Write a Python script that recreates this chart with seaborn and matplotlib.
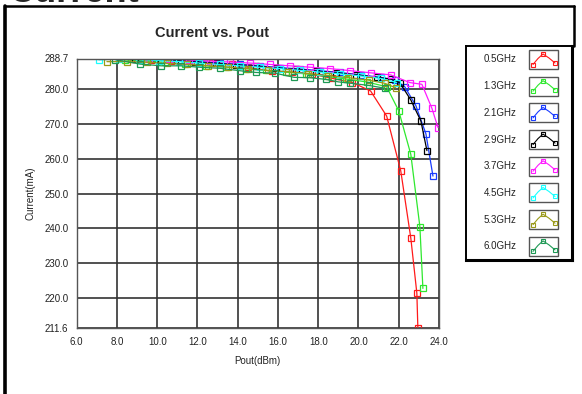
import numpy as np
import pandas as pd
import matplotlib
matplotlib.use("Agg")
import matplotlib.pyplot as plt
import seaborn as sns
from matplotlib.patches import Rectangle
from matplotlib.ticker import MultipleLocator, FixedLocator

# data ------------------------------------------------------------------------------
freqs = ["0.5GHz", "1.3GHz", "2.1GHz", "2.9GHz", "3.7GHz", "4.5GHz", "5.3GHz", "6.0GHz"]
colors = ["#ff1a1a", "#2ee82e", "#1a3cff", "#000000", "#ff1aff", "#1affff", "#9a9a1a", "#1f9955"]

pout_05 = [8.7, 9.7, 10.7, 11.7, 12.7, 13.7, 14.5, 15.7, 16.7, 17.7, 18.7, 19.7, 20.6, 21.4, 22.1, 22.6, 22.9, 22.95]
curr_05 = [288.5, 288.3, 288.1, 288.0, 287.5, 287.1, 286.2, 285.0, 284.8, 284.2, 283.0, 281.8, 279.4, 272.2, 256.5, 237.2, 221.4, 211.4]

pout_13 = [8.4, 9.4, 10.4, 11.4, 12.4, 13.4, 14.4, 15.4, 16.4, 17.4, 18.4, 19.4, 20.4, 21.4, 22.0, 22.6, 23.05, 23.2]
curr_13 = [288.3, 288.0, 287.6, 287.0, 286.6, 286.3, 285.8, 285.3, 284.8, 284.3, 283.6, 282.8, 282.0, 280.6, 273.7, 261.2, 240.5, 222.8]

pout_21 = [9.1, 10.1, 11.1, 12.1, 13.1, 14.1, 15.1, 16.1, 17.1, 18.1, 19.1, 20.1, 21.1, 21.8, 22.3, 22.85, 23.35, 23.7]
curr_21 = [288.6, 288.4, 288.1, 287.8, 287.4, 287.0, 286.6, 286.1, 285.7, 285.2, 284.7, 284.0, 283.3, 282.6, 280.6, 275.2, 267.1, 255.0]

pout_29 = [8.9, 9.9, 10.9, 11.9, 12.9, 13.9, 14.9, 15.9, 16.9, 17.9, 18.9, 19.9, 20.9, 21.6, 22.05, 22.6, 23.1, 23.4]
curr_29 = [288.7, 288.5, 288.2, 287.7, 287.3, 286.9, 286.5, 286.0, 285.6, 285.1, 284.6, 284.0, 283.3, 282.8, 281.8, 276.8, 270.8, 262.3]

pout_37 = [9.6, 10.6, 11.6, 12.6, 13.6, 14.6, 15.6, 16.6, 17.6, 18.6, 19.6, 20.6, 21.6, 22.55, 23.15, 23.65, 23.95]
curr_37 = [288.7, 288.5, 288.3, 288.0, 287.7, 287.4, 287.0, 286.6, 286.2, 285.8, 285.2, 284.6, 284.0, 281.8, 281.3, 274.4, 268.9]

pout_45 = [7.1, 8.1, 9.1, 10.1, 11.1, 12.1, 13.1, 14.1, 15.1, 16.1, 17.1, 18.1, 19.1, 20.1, 21.1, 21.9]
curr_45 = [288.3, 288.6, 288.4, 288.1, 287.8, 287.4, 287.0, 286.6, 286.2, 285.8, 285.3, 284.8, 284.3, 283.7, 283.0, 281.8]

pout_53 = [7.5, 8.5, 9.5, 10.5, 11.5, 12.5, 13.5, 14.5, 15.5, 16.5, 17.5, 18.5, 19.5, 20.5, 21.3, 21.85]
curr_53 = [287.8, 287.8, 287.6, 287.3, 287.0, 286.6, 286.2, 285.8, 285.3, 284.9, 284.4, 283.8, 283.2, 282.5, 281.6, 280.3]

pout_60 = [7.9, 9.15, 10.2, 11.2, 12.1, 13.1, 14.1, 14.9, 15.85, 16.8, 17.6, 18.4, 19.0, 19.6, 20.5, 21.3]
curr_60 = [288.4, 287.1, 286.6, 286.6, 286.2, 285.9, 285.2, 284.7, 284.5, 283.3, 283.2, 282.7, 282.0, 281.6, 281.0, 280.2]

pouts = [pout_05, pout_13, pout_21, pout_29, pout_37, pout_45, pout_53, pout_60]
currs = [curr_05, curr_13, curr_21, curr_29, curr_37, curr_45, curr_53, curr_60]

y_ticks = [211.6, 220.0, 230.0, 240.0, 250.0, 260.0, 270.0, 280.0, 288.7]
x_ticks = [6.0, 8.0, 10.0, 12.0, 14.0, 16.0, 18.0, 20.0, 22.0, 24.0]

# figure ---------------------------------------------------------------------------
sns.set_style("white")
plt.rcParams['font.family'] = ['Liberation Sans', 'DejaVu Sans']

W, H = 582, 394
fig = plt.figure(figsize=(W / 100, H / 100), dpi=100)
fig.patch.set_facecolor("white")

def fx(px):
    return px / W

def fy(py):
    return 1 - py / H

# outer slide frame + cut-off slide title
fig.add_artist(plt.Line2D([fx(4.5), fx(4.5)], [fy(6), 0], color="black", lw=2.6))
fig.add_artist(plt.Line2D([fx(4.5), fx(574)], [fy(6), fy(6)], color="black", lw=1.8))
fig.add_artist(plt.Line2D([fx(574), fx(574)], [fy(6), fy(46)], color="black", lw=1.8))
fig.text(fx(9), fy(1.5), "Current", fontsize=26, fontweight="bold", va="baseline", ha="left")

ax = fig.add_axes([fx(76.7), fy(327.5), fx(439) - fx(76.7), fy(58.5) - fy(327.5)])

df = pd.concat([pd.DataFrame({"Pout": p, "Current": c, "freq": f})
                for p, c, f in zip(pouts, currs, freqs)], ignore_index=True)

for f, col in zip(freqs, colors):
    sub = df[df["freq"] == f]
    sns.lineplot(data=sub, x="Pout", y="Current", ax=ax, sort=False, estimator=None,
                 color=col, lw=0.9, marker="s", markersize=4.8,
                 markerfacecolor="none", markeredgecolor=col, markeredgewidth=0.9,
                 legend=False)

ax.set_xlim(6, 24)
ax.set_ylim(211.6, 288.7)
ax.xaxis.set_major_locator(FixedLocator(x_ticks))
ax.xaxis.set_minor_locator(MultipleLocator(0.5))
ax.yaxis.set_major_locator(FixedLocator(y_ticks))
ax.yaxis.set_minor_locator(MultipleLocator(2))
ax.set_xticklabels([f"{v:.1f}" for v in x_ticks])
ax.set_yticklabels([f"{v:.1f}" for v in y_ticks])
ax.tick_params(axis="both", which="major", direction="out", length=4, width=1,
               labelsize=7, color="#222222", labelcolor="#222222", pad=2)
ax.tick_params(axis="both", which="minor", direction="out", length=2.5, width=1, color="#222222")
ax.tick_params(axis="x", which="major", pad=3)

ax.grid(True, which="major", color="#333333", lw=1.2)
for s in ax.spines.values():
    s.set_color("#555555")
    s.set_linewidth(1.0)
ax.set_axisbelow(True)

ax.set_xlabel("Pout(dBm)", fontsize=7, color="#222222", labelpad=6)
ax.set_ylabel("Current(mA)", fontsize=7, color="#222222", labelpad=6)
fig.text(fx(212), fy(33), "Current vs. Pout", fontsize=10.5, fontweight="bold",
         ha="center", va="center")

# legend panel ----------------------------------------------------------------------
lax = fig.add_axes([fx(466), fy(260), fx(572) - fx(466), fy(46) - fy(260)])
lax.set_xlim(0, 106)
lax.set_ylim(214, 0)
lax.set_xticks([])
lax.set_yticks([])
for name, s in lax.spines.items():
    s.set_color("black")
    s.set_linewidth(2.2 if name in ("right", "bottom") else 1.4)

for i, (f, col) in enumerate(zip(freqs, colors)):
    c = 13.5 + i * 26.7
    lax.text(34, c, f, fontsize=7, ha="center", va="center", color="#222222")
    lax.add_patch(Rectangle((63, c - 9.5), 29, 19, fill=False, ec="#555555", lw=1))
    gx = [67, 72, 77, 83, 89]
    gy = [c + 5, c - 1, c - 5.5, c - 1.5, c + 3.5]
    lax.plot(gx, gy, color=col, lw=0.8)
    lax.plot([67, 77, 89], [c + 5, c - 5.5, c + 3.5], ls="none", marker="s",
             markersize=3, mfc="none", mec=col, mew=0.8)

fig.savefig("out.png", dpi=100)
